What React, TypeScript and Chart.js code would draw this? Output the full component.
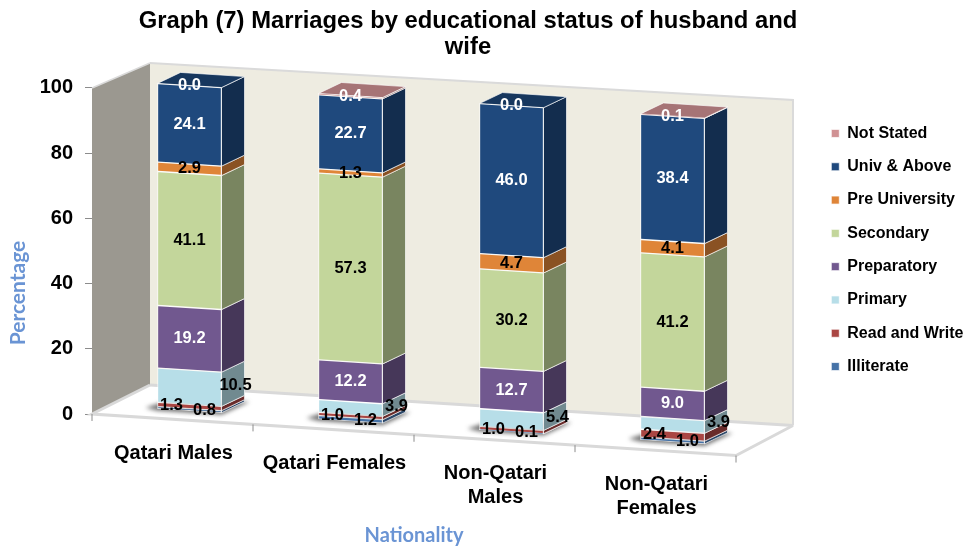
import React, { useEffect, useRef } from "react";
import { Chart, registerables } from "chart.js";

Chart.register(...registerables);

const titleLines = ["Graph (7) Marriages by educational status of husband and", "wife"];
const categories: (string | string[])[] = ["Qatari Males", "Qatari Females", ["Non-Qatari", "Males"], ["Non-Qatari", "Females"]];
const yTitle = "Percentage";
const xTitle = "Nationality";

const illiterate = [0.8, 1.2, 0.1, 1.0];
const readWrite = [1.3, 1.0, 1.0, 2.4];
const primary = [10.5, 3.9, 5.4, 3.9];
const preparatory = [19.2, 12.2, 12.7, 9.0];
const secondary = [41.1, 57.3, 30.2, 41.2];
const preUniversity = [2.9, 1.3, 4.7, 4.1];
const univAbove = [24.1, 22.7, 46.0, 38.4];
const notStated = [0.0, 0.4, 0.0, 0.1];

const seriesNames = ["Illiterate", "Read and Write", "Primary", "Preparatory", "Secondary", "Pre University", "Univ & Above", "Not Stated"];
const seriesValues = [illiterate, readWrite, primary, preparatory, secondary, preUniversity, univAbove, notStated];
const seriesColors = ["#4572A7", "#AA4643", "#B7DEE8", "#71588F", "#C3D69B", "#DF8538", "#1F497D", "#D09193"];
const labelColors = ["#000", "#000", "#000", "#fff", "#000", "#000", "#fff", "#fff"];
// label placement relative to the front-face centre of each segment, by series
const labelShift: [number, number][] = [[15, 1], [-18, -1], [46, -2], [0, 0], [0, 0], [0, 0], [0, 0], [0, 0]];

const K = 0.0645; // slope of the floor/front plane
const FX = 17; // bars' front plane offset from the axis plane
const FY = -8;
const DX = 23; // bar depth
const DY = -11;
const FONT = '"Liberation Sans", Arial, sans-serif';
const BLUE = "#6A94D4";

function shade(hex: string, f: number) {
  const n = parseInt(hex.slice(1), 16);
  const c = (s: number) => Math.round(((n >> s) & 255) * f);
  return `rgb(${c(16)},${c(8)},${c(0)})`;
}

function poly(ctx: CanvasRenderingContext2D, pts: number[][], fill?: string, stroke?: string, lw = 1) {
  ctx.beginPath();
  pts.forEach((p, i) => (i ? ctx.lineTo(p[0], p[1]) : ctx.moveTo(p[0], p[1])));
  ctx.closePath();
  if (fill) { ctx.fillStyle = fill; ctx.fill(); }
  if (stroke) { ctx.strokeStyle = stroke; ctx.lineWidth = lw; ctx.stroke(); }
}

const threeD = {
  id: "threeD",
  afterLayout(chart: any) {
    chart.titleBlock.left = -29;
    chart.titleBlock.right = 965;
    const lg = chart.legend;
    lg.left = 814;
    lg.right = 965;
    lg.width = 151;
    lg.top -= 25;
    lg.bottom -= 25;
  },
  beforeDatasetsDraw(chart: any) {
    const ctx: CanvasRenderingContext2D = chart.ctx;
    const { left, right } = chart.chartArea;
    const y = chart.scales.y;
    const y0 = y.getPixelForValue(0);
    const y100 = y.getPixelForValue(100);
    const dropR = K * (right - left);
    const wx = 58;
    // walls and floor
    const fl = [left, y0], fr = [right, y0 + dropR];
    const bl = [left + wx, y0 - 29], br = [right + wx - 1, y0 + dropR - 30];
    const tl = [left + wx, y100 - 25], tr = [right + wx - 1, y100 + 12];
    poly(ctx, [[left, y100], tl, bl, fl], "#9B9890");
    ctx.strokeStyle = "#DADADA";
    ctx.lineWidth = 1.5;
    ctx.beginPath(); ctx.moveTo(left, y100); ctx.lineTo(tl[0], tl[1]); ctx.stroke();
    poly(ctx, [tl, tr, br, bl], "#EEECE1");
    ctx.lineWidth = 2;
    ctx.beginPath(); ctx.moveTo(tl[0], tl[1]); ctx.lineTo(tr[0], tr[1]); ctx.lineTo(br[0], br[1]); ctx.stroke();
    poly(ctx, [fl, bl, br, fr], "#FFFFFF");
    ctx.strokeStyle = "#D9D9D9";
    ctx.lineWidth = 3;
    ctx.beginPath(); ctx.moveTo(bl[0], bl[1]); ctx.lineTo(br[0], br[1]); ctx.stroke();
    ctx.beginPath(); ctx.moveTo(bl[0], bl[1]); ctx.lineTo(fl[0], fl[1]); ctx.lineTo(fr[0], fr[1]); ctx.lineTo(br[0], br[1]); ctx.stroke();
    // category ticks on the floor's front edge
    ctx.strokeStyle = "#8C8C8C";
    ctx.lineWidth = 1;
    const n = categories.length;
    for (let i = 0; i <= n; i++) {
      const x = left + (i * (right - left)) / n;
      const yy = y0 + K * (x - left);
      ctx.beginPath(); ctx.moveTo(x, yy); ctx.lineTo(x, yy + 7); ctx.stroke();
    }
    const P = (px: number, py: number) => [px + FX, py + K * (px - left) + FY];
    const metas = chart.getSortedVisibleDatasetMetas();
    // bar shadows, side and top faces
    for (let i = 0; i < n; i++) {
      const first = metas[0].data[i].getProps(["x", "width", "base"], true);
      const x1 = first.x - first.width / 2, x2 = first.x + first.width / 2;
      const a = P(x1, first.base), b = P(x2, first.base);
      ctx.save();
      (ctx as any).filter = "blur(2px)";
      poly(ctx, [[a[0] - 12, a[1] - 1], [a[0] + 10, a[1] - 8], [b[0] + DX + 5, b[1] + DY], [b[0], b[1] + 2], [a[0], a[1] + 2]], "rgba(55,55,55,0.7)");
      ctx.restore();
      let topIdx = 0;
      metas.forEach((m: any, d: number) => {
        const el = m.data[i].getProps(["y", "base"], true);
        if (Math.abs(el.base - el.y) < 0.1) return;
        topIdx = d;
        const p = P(x2, el.y), q = P(x2, el.base);
        poly(ctx, [q, p, [p[0] + DX, p[1] + DY], [q[0] + DX, q[1] + DY]], shade(seriesColors[d], 0.62), "rgba(255,255,255,0.65)", 1);
      });
      const el = metas[topIdx].data[i].getProps(["y"], true);
      const p = P(x1, el.y), q = P(x2, el.y);
      poly(ctx, [p, q, [q[0] + DX, q[1] + DY], [p[0] + DX, p[1] + DY]], shade(seriesColors[topIdx], topIdx === 7 ? 0.8 : 0.75), "rgba(255,255,255,0.65)", 1);
    }
    // the front faces are the library's own bars, sheared onto the front plane
    ctx.save();
    ctx.transform(1, K, 0, 1, FX, FY - K * left);
  },
  afterDatasetsDraw(chart: any) {
    const ctx: CanvasRenderingContext2D = chart.ctx;
    ctx.restore();
    const { left } = chart.chartArea;
    const P = (px: number, py: number) => [px + FX, py + K * (px - left) + FY];
    const metas = chart.getSortedVisibleDatasetMetas();
    ctx.save();
    ctx.textAlign = "center";
    ctx.textBaseline = "middle";
    ctx.font = `bold 16.5px ${FONT}`;
    metas.forEach((m: any, d: number) => {
      m.data.forEach((bar: any, i: number) => {
        const el = bar.getProps(["x", "y", "base"], true);
        const c = P(el.x, (el.y + el.base) / 2);
        ctx.fillStyle = labelColors[d];
        ctx.fillText(seriesValues[d][i].toFixed(1), c[0] + labelShift[d][0], c[1] + labelShift[d][1]);
      });
    });
    // category labels follow the slope of the floor
    ctx.fillStyle = "#000";
    ctx.font = `bold 20px ${FONT}`;
    const xs = chart.scales.x;
    categories.forEach((cat, i) => {
      const x = xs.getPixelForValue(i);
      const lines = Array.isArray(cat) ? cat : [cat];
      lines.forEach((line, j) => ctx.fillText(line, x + 1, chart.chartArea.bottom + 39 + K * (x - xs.getPixelForValue(0)) + j * 24));
    });
    // y axis title
    ctx.translate(18, 293);
    ctx.rotate(-Math.PI / 2);
    ctx.fillStyle = BLUE;
    ctx.font = 'bold 21px Lato, sans-serif';
    ctx.fillText(yTitle, 0, 0);
    ctx.restore();
  },
};

export default function App() {
  const ref = useRef<HTMLCanvasElement>(null);
  useEffect(() => {
    document.body.style.margin = "0";
    const chart = new Chart(ref.current!, {
      type: "bar",
      data: {
        labels: categories as any,
        datasets: seriesNames.map((name, d) => ({
          label: name,
          data: seriesValues[d],
          backgroundColor: seriesColors[d],
          borderColor: "rgba(255,255,255,0.7)",
          borderWidth: 1,
          borderSkipped: false,
          barThickness: 64,
          clip: false as any,
        })),
      },
      options: {
        responsive: false,
        animation: false,
        layout: { padding: { left: 0, right: 129, top: 0, bottom: 0 } },
        scales: {
          x: {
            stacked: true,
            border: { display: false },
            grid: { display: false },
            ticks: { display: false },
            title: { display: true, text: xTitle, color: BLUE, font: { family: "Lato, sans-serif", size: 20, weight: "bold" }, padding: { top: 0, bottom: 2 } },
            afterFit(s: any) { s.height = 136; },
          },
          y: {
            stacked: true,
            min: 0,
            max: 100,
            border: { display: false },
            grid: { drawOnChartArea: false, tickLength: 7, color: "#8C8C8C" },
            ticks: { stepSize: 20, padding: 12, color: "#000", font: { family: FONT, size: 20, weight: "bold" } },
            afterFit(s: any) { s.width = 92; },
          },
        },
        plugins: {
          title: {
            display: true,
            text: titleLines,
            color: "#000",
            font: { family: FONT, size: 23.8, weight: "bold", lineHeight: 1.092 },
            padding: { top: 8, bottom: 28 },
          },
          legend: {
            position: "right",
            reverse: true,
            maxWidth: 100,
            labels: { boxWidth: 8, boxHeight: 8, padding: 17.3, color: "#000", font: { family: FONT, size: 16, weight: "bold" } },
          },
          tooltip: { enabled: false },
        },
      },
      plugins: [threeD as any],
    } as any);
    return () => chart.destroy();
  }, []);
  return (
    <div style={{ position: "fixed", left: 0, top: 0, width: 965, height: 550, background: "#fff" }}>
      <canvas ref={ref} width={965} height={550} style={{ display: "block" }} />
    </div>
  );
}
